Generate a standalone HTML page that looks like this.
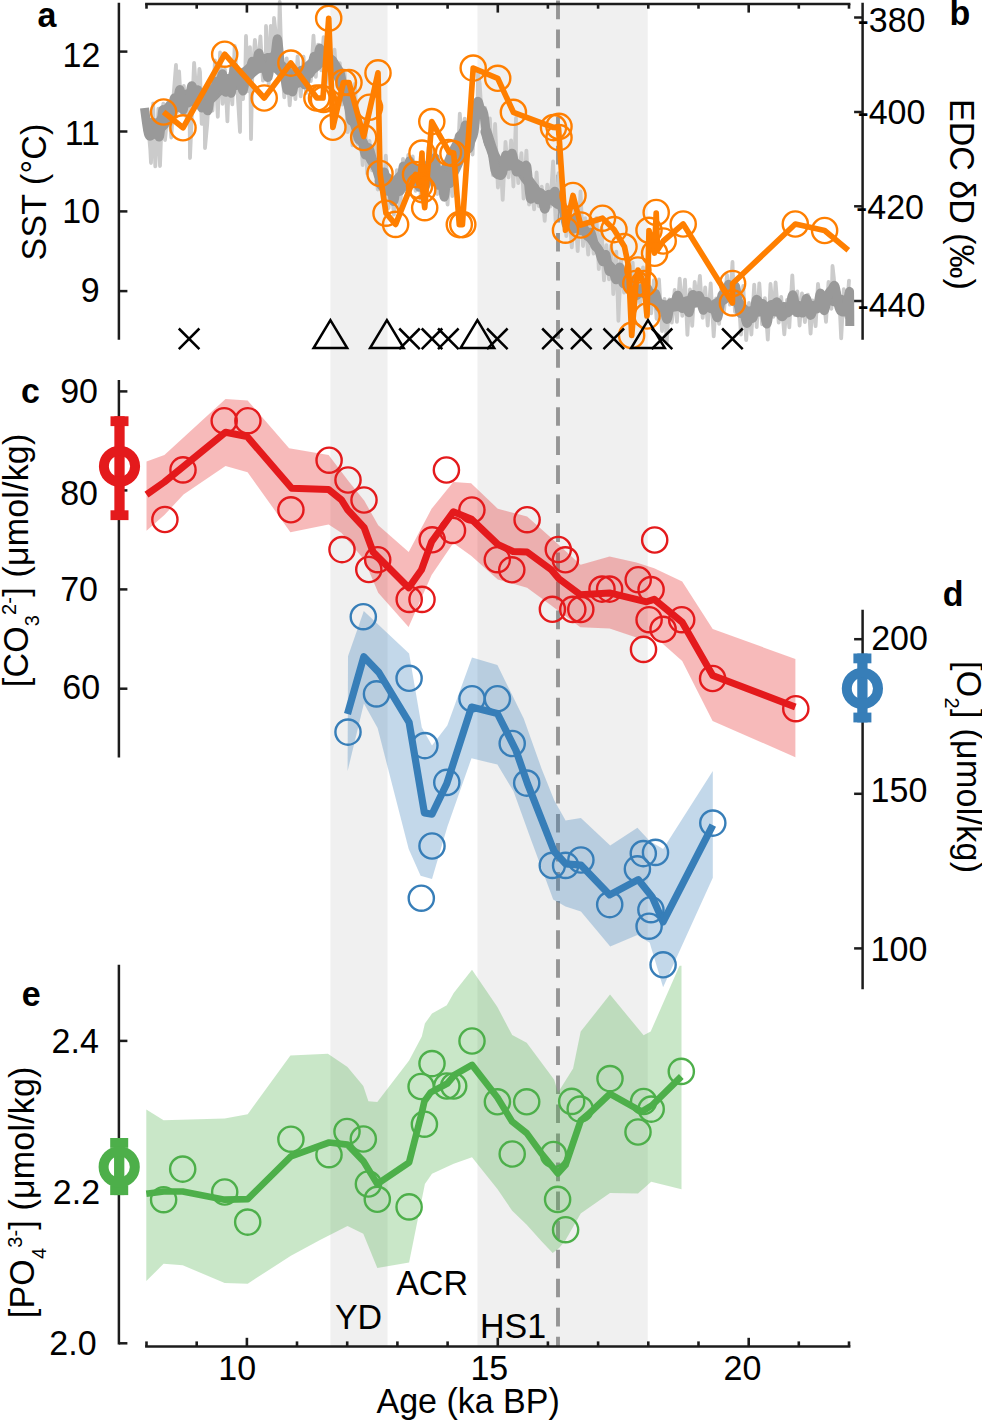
<!DOCTYPE html>
<html><head><meta charset="utf-8"><title>figure</title>
<style>
html,body{margin:0;padding:0;background:#fff;}
body{width:982px;height:1421px;overflow:hidden;}
svg{display:block;font-family:"Liberation Sans", sans-serif;fill:#000;}
</style></head><body>
<svg width="982" height="1421" viewBox="0 0 982 1421">
<rect x="0" y="0" width="982" height="1421" fill="#fff"/>
<rect x="330.4" y="4" width="57.1" height="1342.4" fill="#f0f0f0"/>
<rect x="477.5" y="4" width="170.2" height="1342.4" fill="#f0f0f0"/>
<line x1="558" y1="0.55" x2="558" y2="1346" stroke="#959595" stroke-width="3.9" stroke-dasharray="18.6 10.45"/>
<polyline points="145.0,130.0 147.6,119.0 150.3,149.7 151.0,163.0 153.1,103.5 155.3,166.4 158.4,108.7 160.0,166.0 161.1,135.1 163.3,103.6 165.0,140.0 165.6,133.7 168.6,101.8 171.3,137.5 173.7,93.9 176.0,65.0 176.8,112.8 179.1,71.5 181.3,111.7 183.8,85.9 186.7,118.5 189.3,86.1 190.0,158.0 191.8,115.9 194.1,62.9 197.2,105.1 199.4,68.8 200.0,72.0 201.7,123.8 204.5,95.4 205.0,148.0 207.3,123.1 209.6,81.7 212.5,110.7 215.0,60.3 217.8,116.8 220.1,52.5 222.6,103.8 224.9,69.4 227.4,121.4 228.0,104.0 230.1,73.6 232.3,104.4 234.7,45.8 237.5,91.5 240.0,132.0 240.5,71.6 243.0,99.0 245.4,67.8 246.0,36.0 247.7,91.0 250.0,47.2 251.0,139.0 252.2,78.5 254.9,39.8 257.9,70.6 260.4,36.3 262.9,80.6 265.9,60.8 266.0,26.0 268.7,84.1 270.8,25.8 273.6,68.6 274.0,18.0 276.2,37.6 278.6,58.4 279.7,2.0 281.4,58.5 284.3,97.4 286.7,58.3 289.7,105.4 292.7,67.1 295.4,99.1 297.6,56.3 300.7,96.3 303.5,56.6 306.1,93.1 308.2,62.8 310.8,81.2 313.5,35.7 315.8,76.8 318.1,44.6 321.2,70.3 323.6,37.1 325.9,84.1 328.9,42.8 331.5,75.6 334.5,49.6 337.3,86.4 339.8,63.2 342.2,104.7 344.6,71.4 347.6,132.1 349.8,101.0 352.5,145.4 355.0,83.6 357.4,144.0 359.9,126.0 362.7,165.1 365.0,119.2 367.2,173.7 369.5,141.0 372.0,170.4 374.8,144.7 377.7,189.5 380.5,163.3 383.1,203.0 385.8,155.7 388.6,208.2 391.0,181.4 393.9,214.6 396.9,170.1 399.9,213.2 403.0,158.8 405.4,191.4 408.3,155.0 410.4,181.2 412.7,156.5 415.6,190.9 418.4,165.6 421.2,199.9 423.4,163.1 426.0,189.6 428.6,147.1 431.3,184.6 434.3,149.7 437.2,194.0 439.5,167.2 442.1,197.5 444.7,175.9 447.6,204.6 449.8,160.4 452.3,196.2 454.9,139.6 457.4,167.2 459.8,113.7 462.6,150.8 464.7,118.6 467.0,151.6 469.7,126.5 472.6,154.5 474.9,102.6 477.4,123.6 478.0,72.0 479.7,83.5 482.4,127.8 485.1,107.8 487.4,148.3 489.9,118.5 492.9,175.1 495.1,123.8 497.9,187.5 500.5,160.1 502.7,199.9 505.5,141.9 508.5,177.4 511.1,140.4 513.4,186.5 516.0,118.0 516.0,152.0 518.3,183.1 521.4,153.2 523.6,198.7 526.4,150.7 529.0,204.5 531.1,183.5 534.1,209.4 536.6,172.5 538.8,206.1 541.7,186.7 544.7,220.9 547.3,184.7 550.2,206.7 553.1,161.4 555.6,221.4 558.5,173.2 561.0,217.3 563.5,188.6 566.3,236.1 569.0,209.3 571.8,247.3 574.9,208.9 577.7,251.1 580.5,191.3 583.0,246.0 585.2,218.1 588.2,254.5 590.9,223.0 593.6,253.6 596.5,218.0 598.8,269.2 601.5,228.0 604.0,280.3 606.4,245.2 609.0,279.4 611.2,245.4 613.3,294.1 616.3,251.6 618.4,320.8 621.0,259.9 624.1,292.5 626.9,264.0 630.0,300.8 632.7,262.7 635.0,309.4 637.5,276.8 640.1,303.2 643.0,267.5 646.1,317.1 648.3,279.0 651.2,313.3 653.9,280.1 656.6,318.9 659.0,279.5 662.0,331.0 664.5,299.0 666.7,342.8 669.4,299.4 671.8,322.5 674.7,289.8 676.9,321.9 679.7,278.6 682.3,315.9 685.0,279.7 687.4,334.8 690.0,289.4 692.2,325.8 694.7,282.0 697.1,304.0 699.9,275.8 702.7,317.9 705.2,287.5 707.7,325.7 710.7,283.5 713.7,336.4 716.1,298.4 719.1,323.9 721.6,285.5 724.1,310.7 727.0,274.9 729.9,304.7 732.5,262.0 732.9,275.7 735.0,312.0 738.1,289.2 741.0,334.7 743.2,286.0 746.2,340.2 749.0,303.0 751.4,334.5 754.2,284.6 756.7,327.1 759.3,283.3 762.1,324.4 764.9,298.2 767.8,339.7 770.5,284.0 773.4,316.9 775.6,282.4 778.7,322.6 781.2,296.9 784.3,334.4 787.0,299.8 789.3,327.4 792.3,275.3 794.6,315.0 797.3,291.3 799.6,325.6 802.0,293.4 804.9,322.0 807.9,294.7 810.6,333.6 812.7,300.4 815.6,326.2 818.0,283.9 820.8,310.3 823.2,292.3 826.0,321.8 828.5,282.0 831.4,308.8 832.5,266.0 833.8,277.4 836.1,306.1 839.0,292.7 841.2,338.4 843.8,289.1 846.4,317.4 849.0,280.7" fill="none" stroke="#cbcbcb" stroke-width="3.8" stroke-linejoin="round" stroke-linecap="round"/>
<path d="M152.0,125.2C152.7,125.4 154.7,126.2 156.0,126.2C157.3,126.1 158.7,126.1 160.0,125.1C161.3,124.1 162.7,122.2 164.0,120.1C165.3,118.1 166.7,115.0 168.0,112.8C169.3,110.7 170.7,108.4 172.0,107.1C173.3,105.8 174.7,105.7 176.0,104.8C177.3,103.9 178.7,103.0 180.0,101.9C181.3,100.7 182.7,98.8 184.0,98.0C185.3,97.1 186.7,96.7 188.0,96.7C189.3,96.7 190.7,97.8 192.0,98.2C193.3,98.6 194.7,98.9 196.0,99.1C197.3,99.2 198.7,99.1 200.0,99.0C201.3,99.0 202.7,98.9 204.0,98.7C205.3,98.4 206.7,98.4 208.0,97.7C209.3,96.9 210.7,95.5 212.0,94.2C213.3,93.0 214.7,91.2 216.0,90.1C217.3,88.9 218.7,88.3 220.0,87.3C221.3,86.4 222.7,85.3 224.0,84.3C225.3,83.3 226.7,81.8 228.0,81.5C229.3,81.1 230.7,82.1 232.0,82.2C233.3,82.4 234.7,82.9 236.0,82.4C237.3,82.0 238.7,80.6 240.0,79.5C241.3,78.3 242.7,76.4 244.0,75.3C245.3,74.3 246.7,74.0 248.0,73.0C249.3,72.0 250.7,70.4 252.0,69.4C253.3,68.3 254.7,67.4 256.0,66.7C257.3,66.0 258.7,65.7 260.0,65.2C261.3,64.6 262.7,64.1 264.0,63.3C265.3,62.5 266.7,60.8 268.0,60.5C269.3,60.3 270.7,61.1 272.0,61.9C273.3,62.6 274.7,64.0 276.0,65.0C277.3,66.0 278.7,66.6 280.0,67.7C281.3,68.8 282.7,70.2 284.0,71.6C285.3,73.0 286.7,74.5 288.0,76.0C289.3,77.5 290.7,79.7 292.0,80.5C293.3,81.3 294.7,81.0 296.0,80.7C297.3,80.4 298.7,79.8 300.0,78.8C301.3,77.7 302.7,75.6 304.0,74.2C305.3,72.7 306.7,71.3 308.0,70.0C309.3,68.7 310.7,67.6 312.0,66.5C313.3,65.3 314.7,64.0 316.0,62.9C317.3,61.8 318.7,60.3 320.0,59.6C321.3,58.9 322.7,58.7 324.0,58.9C325.3,59.1 326.7,59.6 328.0,60.6C329.3,61.7 330.7,63.2 332.0,65.0C333.3,66.9 335.3,70.4 336.0,71.5" fill="none" stroke="#999999" stroke-width="15" stroke-linejoin="round" stroke-linecap="round"/>
<path d="M336.0,71.5C336.7,73.0 338.7,77.3 340.0,80.6C341.3,83.9 342.7,87.5 344.0,91.2C345.3,94.9 346.7,98.9 348.0,102.9C349.3,107.0 350.7,111.3 352.0,115.3C353.3,119.4 354.7,123.7 356.0,127.3C357.3,131.0 358.7,134.1 360.0,137.0C361.3,139.9 362.7,142.0 364.0,144.8C365.3,147.6 366.7,151.0 368.0,153.7C369.3,156.4 370.7,158.7 372.0,161.0C373.3,163.2 374.7,164.9 376.0,167.0C377.3,169.1 378.7,171.3 380.0,173.6C381.3,175.9 383.3,179.7 384.0,181.0" fill="none" stroke="#999999" stroke-width="10" stroke-linejoin="round" stroke-linecap="round"/>
<path d="M384.0,181.0C384.7,181.7 386.7,184.6 388.0,185.5C389.3,186.5 390.7,186.7 392.0,186.7C393.3,186.7 394.7,186.2 396.0,185.6C397.3,185.0 398.7,184.3 400.0,183.2C401.3,182.1 402.7,180.2 404.0,179.1C405.3,177.9 406.7,177.1 408.0,176.4C409.3,175.7 410.7,174.9 412.0,174.6C413.3,174.4 414.7,174.8 416.0,174.8C417.3,174.9 418.7,174.9 420.0,174.9C421.3,174.9 422.7,175.1 424.0,175.0C425.3,174.8 426.7,174.3 428.0,174.2C429.3,174.2 430.7,174.4 432.0,174.8C433.3,175.2 434.7,176.3 436.0,176.8C437.3,177.2 438.7,177.7 440.0,177.6C441.3,177.5 442.7,177.1 444.0,176.3C445.3,175.5 446.7,174.6 448.0,172.8C449.3,171.1 450.7,168.5 452.0,165.7C453.3,163.0 454.7,159.1 456.0,156.2C457.3,153.3 458.7,150.8 460.0,148.3C461.3,145.9 462.7,144.1 464.0,141.5C465.3,139.0 467.3,134.4 468.0,132.9" fill="none" stroke="#999999" stroke-width="19" stroke-linejoin="round" stroke-linecap="round"/>
<path d="M486.0,131.7C486.7,133.8 488.7,140.2 490.0,144.1C491.3,148.1 492.7,152.5 494.0,155.4C495.3,158.3 496.7,160.1 498.0,161.6C499.3,163.1 500.7,163.9 502.0,164.5C503.3,165.1 504.7,165.3 506.0,165.3C507.3,165.4 508.7,165.0 510.0,164.8C511.3,164.5 512.7,163.6 514.0,163.8C515.3,164.0 516.7,164.4 518.0,165.8C519.3,167.1 520.7,170.0 522.0,172.1C523.3,174.2 524.7,176.4 526.0,178.2C527.3,180.0 528.7,181.4 530.0,183.1C531.3,184.8 532.7,186.6 534.0,188.6C535.3,190.6 536.7,193.8 538.0,195.1C539.3,196.5 540.7,196.5 542.0,196.7C543.3,196.9 544.7,196.4 546.0,196.5C547.3,196.6 548.7,196.8 550.0,197.4C551.3,198.1 552.7,199.3 554.0,200.4C555.3,201.4 557.3,203.0 558.0,203.6" fill="none" stroke="#999999" stroke-width="11" stroke-linejoin="round" stroke-linecap="round"/>
<path d="M562.0,208.7C562.7,209.7 564.7,212.7 566.0,214.6C567.3,216.6 568.7,218.7 570.0,220.4C571.3,222.1 572.7,223.5 574.0,224.6C575.3,225.8 576.7,226.5 578.0,227.3C579.3,228.2 580.7,228.7 582.0,229.6C583.3,230.5 584.7,231.6 586.0,233.0C587.3,234.4 588.7,236.4 590.0,238.1C591.3,239.8 592.7,241.6 594.0,243.4C595.3,245.1 596.7,246.8 598.0,248.7C599.3,250.7 600.7,253.0 602.0,255.2C603.3,257.3 604.7,259.9 606.0,261.6C607.3,263.4 608.7,264.5 610.0,265.9C611.3,267.3 612.7,268.5 614.0,270.1C615.3,271.6 616.7,273.7 618.0,275.1C619.3,276.5 620.7,277.6 622.0,278.5C623.3,279.5 624.7,280.1 626.0,281.1C627.3,282.0 628.7,283.2 630.0,284.2C631.3,285.2 632.7,286.4 634.0,287.3C635.3,288.1 636.7,288.5 638.0,289.1C639.3,289.8 640.7,290.4 642.0,291.1C643.3,291.8 644.7,292.6 646.0,293.3C647.3,294.0 649.3,295.0 650.0,295.3" fill="none" stroke="#999999" stroke-width="9" stroke-linejoin="round" stroke-linecap="round"/>
<path d="M652.0,296.9C652.7,297.5 654.7,299.6 656.0,300.9C657.3,302.1 658.7,303.6 660.0,304.4C661.3,305.2 662.7,305.4 664.0,305.7C665.3,306.0 666.7,306.0 668.0,306.1C669.3,306.1 670.7,306.2 672.0,306.2C673.3,306.1 674.7,306.0 676.0,305.8C677.3,305.5 678.7,304.9 680.0,304.5C681.3,304.0 682.7,303.3 684.0,302.8C685.3,302.3 686.7,301.7 688.0,301.6C689.3,301.4 690.7,301.9 692.0,302.0C693.3,302.1 694.7,302.3 696.0,302.1C697.3,302.0 698.7,301.1 700.0,301.2C701.3,301.2 702.7,301.6 704.0,302.4C705.3,303.1 706.7,305.0 708.0,305.6C709.3,306.3 710.7,306.6 712.0,306.4C713.3,306.2 714.7,305.2 716.0,304.3C717.3,303.5 718.7,302.5 720.0,301.5C721.3,300.5 722.7,299.6 724.0,298.6C725.3,297.6 726.7,295.9 728.0,295.5C729.3,295.1 730.7,295.5 732.0,296.2C733.3,296.9 734.7,298.3 736.0,299.8C737.3,301.3 738.7,303.5 740.0,305.3C741.3,307.0 742.7,308.9 744.0,310.1C745.3,311.2 746.7,311.9 748.0,312.2C749.3,312.4 750.7,311.7 752.0,311.6C753.3,311.4 754.7,311.5 756.0,311.4C757.3,311.3 758.7,311.4 760.0,310.8C761.3,310.3 762.7,308.5 764.0,307.9C765.3,307.4 766.7,307.0 768.0,307.3C769.3,307.6 770.7,308.9 772.0,309.6C773.3,310.2 774.7,311.1 776.0,311.0C777.3,311.0 778.7,309.8 780.0,309.2C781.3,308.7 782.7,307.6 784.0,307.5C785.3,307.4 786.7,308.4 788.0,308.7C789.3,308.9 790.7,309.5 792.0,309.3C793.3,309.1 794.7,307.9 796.0,307.4C797.3,307.0 798.7,306.4 800.0,306.6C801.3,306.8 802.7,308.2 804.0,308.6C805.3,308.9 806.7,309.0 808.0,308.6C809.3,308.3 810.7,306.9 812.0,306.5C813.3,306.1 814.7,306.6 816.0,306.3C817.3,305.9 818.7,305.5 820.0,304.4C821.3,303.3 822.7,300.9 824.0,299.8C825.3,298.7 826.7,297.8 828.0,297.8C829.3,297.9 830.7,299.6 832.0,300.1C833.3,300.6 834.7,300.9 836.0,300.9C837.3,300.8 838.7,299.8 840.0,299.9C841.3,300.0 842.7,301.1 844.0,301.6C845.3,302.0 847.3,302.4 848.0,302.5" fill="none" stroke="#999999" stroke-width="11" stroke-linejoin="round" stroke-linecap="round"/>
<path d="M144.5,108.0C145.1,112.3 147.1,129.2 148.4,133.7C149.7,138.2 151.1,135.4 152.5,134.9C153.9,134.4 155.4,130.3 156.6,130.5C157.8,130.7 158.6,139.6 159.6,136.2C160.6,132.9 161.8,113.2 162.7,110.2C163.7,107.2 164.5,118.6 165.4,118.3C166.3,118.0 167.2,108.7 168.2,108.5C169.2,108.3 170.3,118.6 171.3,117.0C172.2,115.4 173.0,101.9 174.0,98.9C175.1,95.9 176.4,100.6 177.4,99.1C178.4,97.6 179.2,88.0 180.1,89.8C181.0,91.6 181.9,108.2 182.8,109.9C183.7,111.5 184.5,100.9 185.5,99.6C186.5,98.4 187.8,104.7 188.8,102.4C189.8,100.1 190.6,87.3 191.6,85.9C192.6,84.5 193.8,93.3 194.9,94.0C196.0,94.8 197.2,87.9 198.2,90.2C199.3,92.4 200.3,105.3 201.4,107.6C202.5,109.8 203.6,103.3 204.7,103.8C205.9,104.3 207.1,112.5 208.1,110.4C209.2,108.3 210.0,93.6 211.0,91.1C211.9,88.6 212.8,97.2 213.7,95.6C214.6,94.0 215.4,83.5 216.3,81.6C217.3,79.7 218.4,85.7 219.4,84.4C220.5,83.2 221.6,72.8 222.6,74.0C223.6,75.3 224.4,90.0 225.4,91.9C226.4,93.9 227.4,85.5 228.4,85.6C229.4,85.8 230.4,95.7 231.4,92.7C232.3,89.7 233.2,70.0 234.0,67.7C234.9,65.4 235.7,77.1 236.6,79.0C237.6,80.9 238.8,77.2 239.9,79.2C241.0,81.2 242.1,91.7 243.2,90.9C244.2,90.1 245.3,77.0 246.2,74.6C247.2,72.1 247.9,78.4 248.9,76.2C249.9,74.0 251.1,62.6 252.2,61.4C253.3,60.3 254.3,70.7 255.4,69.3C256.5,67.9 257.7,53.4 258.8,53.1C259.8,52.8 260.6,65.4 261.7,67.7C262.7,69.9 263.8,65.2 264.9,66.9C266.0,68.5 267.0,78.9 268.1,77.4C269.2,75.9 270.3,61.3 271.4,57.9C272.5,54.5 273.7,60.0 274.7,56.9C275.8,53.7 276.6,36.9 277.6,39.1C278.6,41.3 279.8,63.9 280.9,70.0C282.0,76.2 283.2,72.5 284.3,75.9C285.3,79.2 286.2,88.6 287.1,90.0C288.1,91.4 289.0,83.8 289.9,84.1C290.8,84.4 291.6,93.4 292.6,91.7C293.6,90.0 295.0,75.6 296.0,73.9C297.0,72.2 297.7,82.0 298.6,81.4C299.6,80.8 300.7,69.8 301.6,70.3C302.6,70.9 303.4,84.2 304.4,84.7C305.4,85.1 306.7,75.1 307.7,73.1C308.7,71.1 309.6,75.5 310.6,72.7C311.7,69.9 312.9,57.7 314.0,56.3C315.0,54.9 316.0,65.7 317.0,64.3C317.9,63.0 318.7,48.5 319.7,48.2C320.7,47.8 321.9,61.1 323.0,62.2C324.1,63.2 325.2,54.0 326.3,54.5C327.3,55.0 328.2,64.2 329.2,65.1C330.2,66.1 331.3,59.3 332.5,60.3C333.6,61.4 334.8,69.4 336.0,71.4C337.3,73.3 338.8,69.0 340.0,72.1C341.3,75.2 342.4,85.7 343.6,90.1C344.8,94.4 346.3,93.3 347.5,98.3C348.7,103.3 349.7,116.6 350.8,120.1C351.9,123.5 352.8,115.9 354.0,119.0C355.2,122.1 356.9,135.1 358.2,138.7C359.5,142.3 360.7,138.0 361.9,140.7C363.1,143.4 364.2,153.7 365.3,154.9C366.5,156.0 367.4,146.8 368.7,147.7C369.9,148.6 371.4,156.4 372.7,160.1C374.0,163.8 375.3,166.5 376.6,169.9C377.9,173.3 379.2,180.1 380.5,180.5C381.8,180.9 383.2,170.6 384.4,172.2C385.6,173.9 386.5,188.5 387.6,190.6C388.6,192.7 389.5,183.0 390.5,184.8C391.6,186.6 392.6,201.7 393.7,201.4C394.8,201.1 396.0,184.9 397.1,183.2C398.1,181.4 399.1,193.8 400.1,191.0C401.1,188.2 402.1,168.0 403.2,166.2C404.2,164.3 405.2,180.6 406.3,179.8C407.4,178.9 408.5,161.2 409.5,160.9C410.6,160.5 411.7,176.6 412.8,177.8C413.8,179.0 414.8,166.4 415.9,168.0C417.0,169.5 418.1,187.2 419.2,187.2C420.3,187.2 421.4,168.3 422.4,168.1C423.5,167.9 424.5,186.9 425.6,186.2C426.7,185.5 427.9,165.5 429.0,163.8C430.0,162.1 430.9,176.9 432.0,175.9C433.0,174.9 434.2,156.2 435.2,157.7C436.3,159.2 437.2,182.1 438.2,184.9C439.3,187.7 440.4,172.4 441.4,174.5C442.4,176.5 443.2,196.7 444.1,197.1C445.1,197.5 446.2,179.1 447.2,176.7C448.2,174.3 449.1,186.8 450.1,182.8C451.2,178.9 452.3,157.4 453.4,152.9C454.4,148.4 455.6,158.6 456.5,155.8C457.5,153.0 458.3,138.5 459.3,136.2C460.2,134.0 461.3,144.2 462.4,142.3C463.4,140.5 464.6,124.1 465.5,125.1C466.5,126.1 467.3,145.6 468.2,148.3C469.1,151.0 470.0,144.0 470.9,141.2C471.9,138.4 473.0,138.0 474.1,131.5C475.2,125.0 476.3,106.2 477.3,102.3C478.4,98.4 479.3,106.2 480.4,108.1C481.5,110.0 482.6,108.3 483.8,113.7C485.0,119.2 486.2,134.8 487.5,140.8C488.8,146.8 490.4,144.7 491.6,149.6C492.9,154.6 493.9,166.4 495.1,170.6C496.3,174.8 497.3,174.6 498.6,175.0C499.8,175.4 501.4,176.2 502.6,172.9C503.8,169.6 504.6,156.7 505.6,155.1C506.7,153.6 507.7,163.7 508.7,163.4C509.8,163.1 510.9,152.0 512.2,153.3C513.4,154.7 515.0,169.7 516.3,171.7C517.6,173.7 518.6,165.2 519.8,165.2C521.0,165.3 522.4,171.6 523.6,171.8C524.7,172.0 525.6,161.9 526.8,166.3C527.9,170.8 529.1,194.9 530.4,198.5C531.7,202.1 533.3,187.7 534.6,187.9C535.9,188.1 536.9,198.9 538.0,199.8C539.1,200.6 539.9,191.3 541.0,192.8C542.1,194.4 543.5,208.7 544.7,209.1C545.8,209.6 546.7,197.7 547.9,195.3C549.1,192.9 550.7,195.4 551.9,194.8C553.2,194.2 554.3,190.2 555.4,191.7C556.6,193.2 557.7,201.5 558.8,203.8C559.9,206.0 561.0,201.7 562.3,205.2C563.5,208.8 565.1,222.3 566.3,224.8C567.6,227.4 568.5,219.8 569.7,220.5C570.8,221.2 572.1,229.4 573.3,229.2C574.4,228.9 575.5,218.8 576.6,219.0C577.8,219.3 579.0,229.2 580.2,230.5C581.4,231.9 582.6,226.1 583.8,227.0C585.0,228.0 586.4,235.6 587.5,236.5C588.7,237.4 589.7,230.9 590.9,232.4C592.1,234.0 593.6,243.0 594.9,245.8C596.2,248.6 597.2,246.6 598.5,249.2C599.8,251.9 601.4,260.7 602.7,261.6C603.9,262.5 604.9,253.0 605.9,254.6C607.0,256.2 608.0,268.8 609.1,271.1C610.2,273.5 611.3,267.3 612.5,268.8C613.6,270.2 614.8,280.1 616.1,279.8C617.3,279.5 618.6,266.4 619.8,267.0C620.9,267.5 621.8,280.7 622.9,283.0C624.0,285.4 625.2,280.3 626.3,281.1C627.4,282.0 628.5,288.1 629.7,288.2C630.9,288.4 632.1,280.7 633.3,281.9C634.5,283.0 635.6,294.0 636.8,295.1C637.9,296.2 639.3,288.8 640.5,288.6C641.6,288.4 642.5,293.9 643.8,293.9C645.0,293.9 646.6,287.8 647.9,288.7C649.2,289.6 650.3,298.4 651.5,299.2C652.8,300.0 654.2,292.1 655.5,293.4C656.7,294.7 657.9,305.2 659.1,307.1C660.4,309.0 661.6,303.0 662.9,305.1C664.2,307.1 665.7,319.7 667.0,319.4C668.3,319.1 669.4,305.3 670.5,303.1C671.6,301.0 672.5,307.9 673.7,306.5C674.9,305.2 676.4,294.9 677.7,295.2C679.0,295.5 680.5,306.9 681.7,308.3C683.0,309.7 684.0,303.0 685.2,303.7C686.5,304.4 688.0,313.9 689.2,312.5C690.3,311.1 691.2,297.6 692.3,295.2C693.5,292.8 694.8,297.8 696.0,298.0C697.2,298.1 698.2,293.9 699.4,296.0C700.6,298.0 702.0,309.3 703.1,310.2C704.2,311.2 705.0,301.8 706.2,301.5C707.4,301.2 708.9,307.2 710.2,308.3C711.5,309.5 712.7,306.7 714.0,308.2C715.2,309.7 716.5,319.6 717.8,317.4C719.2,315.2 720.8,297.9 722.0,294.8C723.2,291.6 724.0,300.3 725.1,298.6C726.1,296.8 727.1,285.2 728.3,284.4C729.6,283.5 731.3,293.3 732.5,293.7C733.7,294.1 734.4,283.5 735.6,286.5C736.9,289.6 738.4,307.7 739.7,311.9C741.1,316.1 742.3,309.7 743.5,311.6C744.6,313.5 745.6,322.2 746.7,323.3C747.7,324.4 748.6,318.9 749.7,317.9C750.8,316.9 752.1,320.4 753.2,317.3C754.3,314.3 755.1,301.7 756.2,299.7C757.4,297.6 759.0,304.2 760.1,305.0C761.3,305.9 762.2,301.6 763.3,304.8C764.4,308.0 765.5,323.8 766.7,324.1C767.8,324.3 769.1,309.6 770.3,306.3C771.4,303.1 772.5,305.3 773.7,304.7C774.9,304.0 776.3,300.6 777.6,302.5C778.8,304.4 780.0,314.5 781.3,316.3C782.6,318.1 784.1,314.2 785.4,313.3C786.7,312.5 787.9,314.3 789.1,311.2C790.4,308.1 791.5,294.6 792.8,294.7C794.1,294.8 795.5,309.3 796.7,311.9C797.9,314.5 798.8,310.3 799.9,310.4C801.0,310.5 802.2,314.5 803.3,312.5C804.4,310.5 805.4,297.9 806.5,298.4C807.7,298.8 809.1,313.5 810.3,315.1C811.6,316.6 813.0,308.8 814.1,307.7C815.3,306.6 816.2,310.7 817.3,308.2C818.3,305.8 819.4,292.8 820.6,293.2C821.7,293.6 822.9,310.4 824.1,310.7C825.4,311.0 826.8,298.5 828.1,294.9C829.4,291.2 830.8,290.3 832.0,289.0C833.1,287.6 834.0,283.5 835.1,286.5C836.3,289.6 837.8,303.2 839.0,307.4C840.1,311.6 840.9,311.5 842.1,311.9C843.2,312.2 844.7,312.6 845.9,309.4C847.1,306.3 848.4,295.3 849.1,293.0C849.7,290.8 849.5,290.5 849.6,296.0C849.7,301.5 849.8,321.0 849.8,326.0" fill="none" stroke="#999999" stroke-width="9" stroke-linejoin="round" stroke-linecap="butt"/>
<polyline points="163.6,112.0 183.0,127.8 224.7,54.2 264.2,98.0 290.9,63.1 316.9,98.0 323.0,98.0 328.7,18.3 332.9,127.3 343.4,82.5 349.0,82.5 363.7,136.5 378.0,72.9 380.0,173.5 386.0,213.2 395.6,224.4 415.5,174.5 419.6,185.7 422.0,153.1 422.7,189.8 424.7,207.7 431.8,121.6 449.1,152.1 453.7,153.1 459.3,224.6 462.4,224.6 473.2,68.1 497.7,78.3 513.4,112.3 553.5,127.5 558.5,128.0 565.5,230.2 573.0,195.5 580.7,225.0 602.5,218.2 614.0,229.6 624.5,246.8 628.5,266.0 631.7,335.4 636.0,283.5 638.0,270.0 644.0,283.5 647.0,316.0 649.0,230.5 654.5,253.0 656.2,213.0 657.5,250.0 663.3,241.0 683.2,224.0 732.4,302.9 732.6,283.5 795.3,224.0 824.6,230.5 848.3,250.3" fill="none" stroke="#ff7f00" stroke-width="5.7" stroke-linejoin="round" stroke-linecap="butt"/>
<circle cx="163.6" cy="112.0" r="12.6" fill="none" stroke="#ff7f00" stroke-width="2.4"/>
<circle cx="183.0" cy="127.8" r="12.6" fill="none" stroke="#ff7f00" stroke-width="2.4"/>
<circle cx="224.7" cy="54.2" r="12.6" fill="none" stroke="#ff7f00" stroke-width="2.4"/>
<circle cx="264.2" cy="98.0" r="12.6" fill="none" stroke="#ff7f00" stroke-width="2.4"/>
<circle cx="290.9" cy="63.1" r="12.6" fill="none" stroke="#ff7f00" stroke-width="2.4"/>
<circle cx="316.9" cy="98.0" r="12.6" fill="none" stroke="#ff7f00" stroke-width="2.4"/>
<circle cx="321.5" cy="98.0" r="12.6" fill="none" stroke="#ff7f00" stroke-width="2.4"/>
<circle cx="323.5" cy="99.4" r="12.6" fill="none" stroke="#ff7f00" stroke-width="2.4"/>
<circle cx="328.7" cy="18.3" r="12.6" fill="none" stroke="#ff7f00" stroke-width="2.4"/>
<circle cx="332.9" cy="127.3" r="12.6" fill="none" stroke="#ff7f00" stroke-width="2.4"/>
<circle cx="343.4" cy="82.5" r="12.6" fill="none" stroke="#ff7f00" stroke-width="2.4"/>
<circle cx="349.0" cy="82.5" r="12.6" fill="none" stroke="#ff7f00" stroke-width="2.4"/>
<circle cx="363.7" cy="137.5" r="12.6" fill="none" stroke="#ff7f00" stroke-width="2.4"/>
<circle cx="369.5" cy="107.2" r="12.6" fill="none" stroke="#ff7f00" stroke-width="2.4"/>
<circle cx="378.0" cy="72.9" r="12.6" fill="none" stroke="#ff7f00" stroke-width="2.4"/>
<circle cx="380.0" cy="173.5" r="12.6" fill="none" stroke="#ff7f00" stroke-width="2.4"/>
<circle cx="386.0" cy="213.2" r="12.6" fill="none" stroke="#ff7f00" stroke-width="2.4"/>
<circle cx="395.6" cy="224.4" r="12.6" fill="none" stroke="#ff7f00" stroke-width="2.4"/>
<circle cx="415.5" cy="174.5" r="12.6" fill="none" stroke="#ff7f00" stroke-width="2.4"/>
<circle cx="419.6" cy="185.7" r="12.6" fill="none" stroke="#ff7f00" stroke-width="2.4"/>
<circle cx="422.0" cy="153.1" r="12.6" fill="none" stroke="#ff7f00" stroke-width="2.4"/>
<circle cx="422.7" cy="189.8" r="12.6" fill="none" stroke="#ff7f00" stroke-width="2.4"/>
<circle cx="424.7" cy="207.7" r="12.6" fill="none" stroke="#ff7f00" stroke-width="2.4"/>
<circle cx="431.8" cy="121.6" r="12.6" fill="none" stroke="#ff7f00" stroke-width="2.4"/>
<circle cx="448.5" cy="152.5" r="12.6" fill="none" stroke="#ff7f00" stroke-width="2.4"/>
<circle cx="453.0" cy="153.5" r="12.6" fill="none" stroke="#ff7f00" stroke-width="2.4"/>
<circle cx="459.3" cy="224.6" r="12.6" fill="none" stroke="#ff7f00" stroke-width="2.4"/>
<circle cx="462.8" cy="224.6" r="12.6" fill="none" stroke="#ff7f00" stroke-width="2.4"/>
<circle cx="473.2" cy="68.1" r="12.6" fill="none" stroke="#ff7f00" stroke-width="2.4"/>
<circle cx="497.7" cy="78.3" r="12.6" fill="none" stroke="#ff7f00" stroke-width="2.4"/>
<circle cx="513.4" cy="112.3" r="12.6" fill="none" stroke="#ff7f00" stroke-width="2.4"/>
<circle cx="553.5" cy="127.6" r="12.6" fill="none" stroke="#ff7f00" stroke-width="2.4"/>
<circle cx="559.0" cy="126.4" r="12.6" fill="none" stroke="#ff7f00" stroke-width="2.4"/>
<circle cx="559.0" cy="137.6" r="12.6" fill="none" stroke="#ff7f00" stroke-width="2.4"/>
<circle cx="565.5" cy="230.2" r="12.6" fill="none" stroke="#ff7f00" stroke-width="2.4"/>
<circle cx="573.0" cy="195.5" r="12.6" fill="none" stroke="#ff7f00" stroke-width="2.4"/>
<circle cx="580.7" cy="225.0" r="12.6" fill="none" stroke="#ff7f00" stroke-width="2.4"/>
<circle cx="602.5" cy="218.2" r="12.6" fill="none" stroke="#ff7f00" stroke-width="2.4"/>
<circle cx="614.0" cy="229.6" r="12.6" fill="none" stroke="#ff7f00" stroke-width="2.4"/>
<circle cx="624.0" cy="246.6" r="12.6" fill="none" stroke="#ff7f00" stroke-width="2.4"/>
<circle cx="635.8" cy="283.5" r="12.6" fill="none" stroke="#ff7f00" stroke-width="2.4"/>
<circle cx="644.0" cy="283.5" r="12.6" fill="none" stroke="#ff7f00" stroke-width="2.4"/>
<circle cx="637.9" cy="270.0" r="12.6" fill="none" stroke="#ff7f00" stroke-width="2.4"/>
<circle cx="647.0" cy="316.0" r="12.6" fill="none" stroke="#ff7f00" stroke-width="2.4"/>
<circle cx="631.6" cy="335.4" r="12.6" fill="none" stroke="#ff7f00" stroke-width="2.4"/>
<circle cx="649.0" cy="230.3" r="12.6" fill="none" stroke="#ff7f00" stroke-width="2.4"/>
<circle cx="656.2" cy="212.5" r="12.6" fill="none" stroke="#ff7f00" stroke-width="2.4"/>
<circle cx="663.2" cy="241.0" r="12.6" fill="none" stroke="#ff7f00" stroke-width="2.4"/>
<circle cx="654.6" cy="253.3" r="12.6" fill="none" stroke="#ff7f00" stroke-width="2.4"/>
<circle cx="683.2" cy="224.0" r="12.6" fill="none" stroke="#ff7f00" stroke-width="2.4"/>
<circle cx="732.6" cy="283.5" r="12.6" fill="none" stroke="#ff7f00" stroke-width="2.4"/>
<circle cx="732.4" cy="302.9" r="12.6" fill="none" stroke="#ff7f00" stroke-width="2.4"/>
<circle cx="795.3" cy="224.0" r="12.6" fill="none" stroke="#ff7f00" stroke-width="2.4"/>
<circle cx="824.6" cy="230.5" r="12.6" fill="none" stroke="#ff7f00" stroke-width="2.4"/>
<path d="M178.8,328.5 L199.4,349.1 M178.8,349.1 L199.4,328.5" stroke="#000" stroke-width="2.5" fill="none"/>
<path d="M399.2,328.5 L419.8,349.1 M399.2,349.1 L419.8,328.5" stroke="#000" stroke-width="2.5" fill="none"/>
<path d="M421.7,328.5 L442.3,349.1 M421.7,349.1 L442.3,328.5" stroke="#000" stroke-width="2.5" fill="none"/>
<path d="M438.0,328.5 L458.6,349.1 M438.0,349.1 L458.6,328.5" stroke="#000" stroke-width="2.5" fill="none"/>
<path d="M487.0,328.5 L507.6,349.1 M487.0,349.1 L507.6,328.5" stroke="#000" stroke-width="2.5" fill="none"/>
<path d="M542.2,328.5 L562.8,349.1 M542.2,349.1 L562.8,328.5" stroke="#000" stroke-width="2.5" fill="none"/>
<path d="M571.0,328.5 L591.6,349.1 M571.0,349.1 L591.6,328.5" stroke="#000" stroke-width="2.5" fill="none"/>
<path d="M603.5,328.5 L624.1,349.1 M603.5,349.1 L624.1,328.5" stroke="#000" stroke-width="2.5" fill="none"/>
<path d="M651.7,328.5 L672.3,349.1 M651.7,349.1 L672.3,328.5" stroke="#000" stroke-width="2.5" fill="none"/>
<path d="M722.1,328.5 L742.7,349.1 M722.1,349.1 L742.7,328.5" stroke="#000" stroke-width="2.5" fill="none"/>
<path d="M330.4,320.2 L347.2,348.0 L313.6,348.0 Z" stroke="#000" stroke-width="2.5" fill="none" stroke-linejoin="miter"/>
<path d="M386.9,320.2 L403.7,348.0 L370.1,348.0 Z" stroke="#000" stroke-width="2.5" fill="none" stroke-linejoin="miter"/>
<path d="M477.4,320.2 L494.2,348.0 L460.6,348.0 Z" stroke="#000" stroke-width="2.5" fill="none" stroke-linejoin="miter"/>
<path d="M648.0,320.2 L664.8,348.0 L631.2,348.0 Z" stroke="#000" stroke-width="2.5" fill="none" stroke-linejoin="miter"/>
<polygon points="146.5,461.5 164.4,455.1 225.5,399.1 247.6,400.4 289.1,448.2 328.6,455.1 349.0,481.8 364.2,500.5 378.2,525.3 408.7,552.0 431.6,508.7 453.3,482.0 471.1,483.3 497.8,508.7 527.1,516.4 551.3,538.0 580.6,564.7 609.6,556.5 636.4,562.4 654.2,568.2 682.2,581.5 712.7,629.0 795.4,659.0 795.4,757.3 712.6,720.9 682.2,661.0 654.0,636.0 636.4,637.5 609.6,628.6 580.4,627.3 551.3,605.5 527.1,587.7 513.1,583.8 497.8,579.5 471.1,555.8 453.3,543.1 431.6,575.0 408.6,627.0 378.2,592.7 364.2,559.7 341.3,532.7 328.6,524.6 290.4,532.2 247.6,472.2 225.5,466.0 183.5,494.6 164.4,515.0 146.5,530.7" fill="#e41a1c" fill-opacity="0.3"/>
<polyline points="146.5,494.6 164.4,482.0 225.5,432.2 247.1,436.5 291.7,488.2 328.6,489.5 341.3,499.7 347.7,509.8 364.2,527.7 373.1,552.0 408.7,587.7 421.5,569.8 431.6,541.8 453.3,511.8 471.1,518.9 497.8,544.4 513.1,551.5 527.1,552.0 551.3,569.8 558.9,578.7 580.4,594.7 609.6,592.9 646.6,601.8 654.2,599.3 682.2,622.2 712.7,675.4 795.3,706.9" fill="none" stroke="#e41a1c" stroke-width="7" stroke-linejoin="round"/>
<circle cx="164.9" cy="519.5" r="12.6" fill="none" stroke="#e41a1c" stroke-width="2.4"/>
<circle cx="183.0" cy="469.9" r="12.6" fill="none" stroke="#e41a1c" stroke-width="2.4"/>
<circle cx="224.2" cy="420.7" r="12.6" fill="none" stroke="#e41a1c" stroke-width="2.4"/>
<circle cx="247.9" cy="420.7" r="12.6" fill="none" stroke="#e41a1c" stroke-width="2.4"/>
<circle cx="290.9" cy="509.8" r="12.6" fill="none" stroke="#e41a1c" stroke-width="2.4"/>
<circle cx="329.1" cy="460.2" r="12.6" fill="none" stroke="#e41a1c" stroke-width="2.4"/>
<circle cx="348.0" cy="480.0" r="12.6" fill="none" stroke="#e41a1c" stroke-width="2.4"/>
<circle cx="364.0" cy="500.0" r="12.6" fill="none" stroke="#e41a1c" stroke-width="2.4"/>
<circle cx="342.0" cy="549.6" r="12.6" fill="none" stroke="#e41a1c" stroke-width="2.4"/>
<circle cx="368.8" cy="569.5" r="12.6" fill="none" stroke="#e41a1c" stroke-width="2.4"/>
<circle cx="377.7" cy="559.7" r="12.6" fill="none" stroke="#e41a1c" stroke-width="2.4"/>
<circle cx="409.2" cy="599.4" r="12.6" fill="none" stroke="#e41a1c" stroke-width="2.4"/>
<circle cx="422.0" cy="599.4" r="12.6" fill="none" stroke="#e41a1c" stroke-width="2.4"/>
<circle cx="432.2" cy="539.8" r="12.6" fill="none" stroke="#e41a1c" stroke-width="2.4"/>
<circle cx="446.4" cy="470.0" r="12.6" fill="none" stroke="#e41a1c" stroke-width="2.4"/>
<circle cx="452.5" cy="530.4" r="12.6" fill="none" stroke="#e41a1c" stroke-width="2.4"/>
<circle cx="471.9" cy="510.0" r="12.6" fill="none" stroke="#e41a1c" stroke-width="2.4"/>
<circle cx="497.3" cy="559.7" r="12.6" fill="none" stroke="#e41a1c" stroke-width="2.4"/>
<circle cx="511.8" cy="569.8" r="12.6" fill="none" stroke="#e41a1c" stroke-width="2.4"/>
<circle cx="527.1" cy="519.7" r="12.6" fill="none" stroke="#e41a1c" stroke-width="2.4"/>
<circle cx="558.3" cy="549.5" r="12.6" fill="none" stroke="#e41a1c" stroke-width="2.4"/>
<circle cx="565.4" cy="559.8" r="12.6" fill="none" stroke="#e41a1c" stroke-width="2.4"/>
<circle cx="552.4" cy="609.3" r="12.6" fill="none" stroke="#e41a1c" stroke-width="2.4"/>
<circle cx="572.8" cy="609.4" r="12.6" fill="none" stroke="#e41a1c" stroke-width="2.4"/>
<circle cx="580.8" cy="609.4" r="12.6" fill="none" stroke="#e41a1c" stroke-width="2.4"/>
<circle cx="602.0" cy="589.1" r="12.6" fill="none" stroke="#e41a1c" stroke-width="2.4"/>
<circle cx="609.6" cy="589.1" r="12.6" fill="none" stroke="#e41a1c" stroke-width="2.4"/>
<circle cx="638.2" cy="579.7" r="12.6" fill="none" stroke="#e41a1c" stroke-width="2.4"/>
<circle cx="651.1" cy="589.6" r="12.6" fill="none" stroke="#e41a1c" stroke-width="2.4"/>
<circle cx="654.7" cy="540.0" r="12.6" fill="none" stroke="#e41a1c" stroke-width="2.4"/>
<circle cx="649.1" cy="619.7" r="12.6" fill="none" stroke="#e41a1c" stroke-width="2.4"/>
<circle cx="663.1" cy="629.3" r="12.6" fill="none" stroke="#e41a1c" stroke-width="2.4"/>
<circle cx="681.7" cy="619.7" r="12.6" fill="none" stroke="#e41a1c" stroke-width="2.4"/>
<circle cx="643.5" cy="649.4" r="12.6" fill="none" stroke="#e41a1c" stroke-width="2.4"/>
<circle cx="712.6" cy="678.5" r="12.6" fill="none" stroke="#e41a1c" stroke-width="2.4"/>
<circle cx="795.8" cy="708.7" r="12.6" fill="none" stroke="#e41a1c" stroke-width="2.4"/>
<polygon points="348.0,656.2 363.8,610.9 409.1,653.6 421.8,727.6 432.0,745.5 447.3,725.5 472.0,657.5 497.4,665.1 523.7,718.5 541.5,768.4 554.2,800.2 565.6,820.5 580.9,818.0 610.2,845.5 637.4,827.7 649.7,840.9 663.1,849.1 712.8,771.0 712.8,877.8 663.1,987.3 649.7,942.7 637.4,935.1 610.2,946.6 580.9,911.4 565.5,906.4 553.2,899.5 531.3,840.5 513.5,791.3 497.4,764.6 471.5,758.2 447.3,826.9 432.0,879.1 420.6,875.8 408.7,849.0 377.6,728.0 363.9,703.5 347.6,771.0" fill="#377eb8" fill-opacity="0.3"/>
<polyline points="347.5,714.0 363.8,656.7 378.9,672.5 409.1,722.4 424.4,812.9 432.0,814.2 446.8,783.6 471.5,707.1 497.4,713.5 516.0,750.5 527.5,783.6 554.2,851.5 565.6,863.8 580.9,865.1 609.7,894.9 638.2,879.6 652.2,896.9 663.1,921.9 712.8,825.1" fill="none" stroke="#377eb8" stroke-width="7.2" stroke-linejoin="round"/>
<circle cx="363.3" cy="616.7" r="12.6" fill="none" stroke="#377eb8" stroke-width="2.4"/>
<circle cx="348.0" cy="732.1" r="12.6" fill="none" stroke="#377eb8" stroke-width="2.4"/>
<circle cx="376.5" cy="693.9" r="12.6" fill="none" stroke="#377eb8" stroke-width="2.4"/>
<circle cx="409.1" cy="678.3" r="12.6" fill="none" stroke="#377eb8" stroke-width="2.4"/>
<circle cx="424.9" cy="745.6" r="12.6" fill="none" stroke="#377eb8" stroke-width="2.4"/>
<circle cx="472.0" cy="698.7" r="12.6" fill="none" stroke="#377eb8" stroke-width="2.4"/>
<circle cx="497.4" cy="698.7" r="12.6" fill="none" stroke="#377eb8" stroke-width="2.4"/>
<circle cx="512.2" cy="743.5" r="12.6" fill="none" stroke="#377eb8" stroke-width="2.4"/>
<circle cx="446.8" cy="782.4" r="12.6" fill="none" stroke="#377eb8" stroke-width="2.4"/>
<circle cx="432.0" cy="846.0" r="12.6" fill="none" stroke="#377eb8" stroke-width="2.4"/>
<circle cx="421.3" cy="898.2" r="12.6" fill="none" stroke="#377eb8" stroke-width="2.4"/>
<circle cx="526.7" cy="783.1" r="12.6" fill="none" stroke="#377eb8" stroke-width="2.4"/>
<circle cx="552.3" cy="865.4" r="12.6" fill="none" stroke="#377eb8" stroke-width="2.4"/>
<circle cx="565.6" cy="865.4" r="12.6" fill="none" stroke="#377eb8" stroke-width="2.4"/>
<circle cx="580.9" cy="860.0" r="12.6" fill="none" stroke="#377eb8" stroke-width="2.4"/>
<circle cx="609.7" cy="904.6" r="12.6" fill="none" stroke="#377eb8" stroke-width="2.4"/>
<circle cx="637.4" cy="868.9" r="12.6" fill="none" stroke="#377eb8" stroke-width="2.4"/>
<circle cx="643.3" cy="853.6" r="12.6" fill="none" stroke="#377eb8" stroke-width="2.4"/>
<circle cx="655.5" cy="852.4" r="12.6" fill="none" stroke="#377eb8" stroke-width="2.4"/>
<circle cx="650.9" cy="909.7" r="12.6" fill="none" stroke="#377eb8" stroke-width="2.4"/>
<circle cx="649.1" cy="926.2" r="12.6" fill="none" stroke="#377eb8" stroke-width="2.4"/>
<circle cx="663.1" cy="964.8" r="12.6" fill="none" stroke="#377eb8" stroke-width="2.4"/>
<circle cx="712.8" cy="823.1" r="12.6" fill="none" stroke="#377eb8" stroke-width="2.4"/>
<polygon points="146.3,1109.5 163.6,1120.3 224.7,1118.5 247.7,1114.2 290.4,1055.5 327.9,1053.7 347.5,1066.9 363.3,1086.0 368.4,1101.3 377.3,1102.1 409.1,1060.6 421.8,1036.4 424.9,1023.6 432.0,1013.5 446.8,1005.3 453.7,993.1 472.0,969.7 497.4,1007.1 512.2,1035.1 526.7,1042.7 554.2,1079.7 558.0,1092.5 573.1,1068.4 580.7,1031.5 610.0,994.6 643.6,1035.3 650.7,1031.5 679.5,965.8 681.5,965.8 681.5,1189.3 651.2,1181.7 638.0,1193.6 610.0,1193.1 580.7,1213.5 565.5,1240.2 559.1,1247.9 552.7,1253.0 541.5,1241.3 526.7,1224.8 512.2,1210.8 497.4,1189.1 472.0,1157.3 453.7,1163.7 432.0,1173.8 424.9,1184.0 409.1,1262.4 377.3,1268.0 363.3,1233.7 347.5,1226.0 320.0,1240.0 290.9,1255.7 247.7,1283.7 224.7,1282.9 182.7,1265.3 163.6,1263.8 146.3,1281.1" fill="#4daf4a" fill-opacity="0.3"/>
<polyline points="146.3,1193.8 163.6,1191.5 182.7,1191.5 224.7,1199.7 247.7,1199.1 290.9,1156.4 329.1,1142.5 347.5,1144.6 363.3,1161.1 377.3,1184.0 409.1,1162.4 421.8,1112.7 424.4,1101.3 430.7,1092.4 447.3,1083.5 454.9,1074.6 472.0,1064.9 497.4,1097.5 512.2,1121.7 526.7,1133.1 541.5,1153.5 557.8,1173.5 565.5,1165.1 580.7,1120.6 588.4,1114.2 610.0,1093.8 641.8,1111.7 652.0,1105.3 681.3,1076.5" fill="none" stroke="#4daf4a" stroke-width="6.7" stroke-linejoin="round"/>
<circle cx="163.6" cy="1199.7" r="12.6" fill="none" stroke="#4daf4a" stroke-width="2.4"/>
<circle cx="182.7" cy="1169.1" r="12.6" fill="none" stroke="#4daf4a" stroke-width="2.4"/>
<circle cx="224.7" cy="1192.0" r="12.6" fill="none" stroke="#4daf4a" stroke-width="2.4"/>
<circle cx="247.7" cy="1222.1" r="12.6" fill="none" stroke="#4daf4a" stroke-width="2.4"/>
<circle cx="290.9" cy="1139.2" r="12.6" fill="none" stroke="#4daf4a" stroke-width="2.4"/>
<circle cx="329.0" cy="1154.7" r="12.6" fill="none" stroke="#4daf4a" stroke-width="2.4"/>
<circle cx="347.0" cy="1131.5" r="12.6" fill="none" stroke="#4daf4a" stroke-width="2.4"/>
<circle cx="363.3" cy="1139.0" r="12.6" fill="none" stroke="#4daf4a" stroke-width="2.4"/>
<circle cx="368.4" cy="1184.0" r="12.6" fill="none" stroke="#4daf4a" stroke-width="2.4"/>
<circle cx="377.3" cy="1199.3" r="12.6" fill="none" stroke="#4daf4a" stroke-width="2.4"/>
<circle cx="409.1" cy="1206.9" r="12.6" fill="none" stroke="#4daf4a" stroke-width="2.4"/>
<circle cx="432.0" cy="1063.6" r="12.6" fill="none" stroke="#4daf4a" stroke-width="2.4"/>
<circle cx="421.1" cy="1086.5" r="12.6" fill="none" stroke="#4daf4a" stroke-width="2.4"/>
<circle cx="424.4" cy="1124.2" r="12.6" fill="none" stroke="#4daf4a" stroke-width="2.4"/>
<circle cx="446.8" cy="1086.0" r="12.6" fill="none" stroke="#4daf4a" stroke-width="2.4"/>
<circle cx="453.7" cy="1086.0" r="12.6" fill="none" stroke="#4daf4a" stroke-width="2.4"/>
<circle cx="472.0" cy="1041.0" r="12.6" fill="none" stroke="#4daf4a" stroke-width="2.4"/>
<circle cx="497.4" cy="1101.8" r="12.6" fill="none" stroke="#4daf4a" stroke-width="2.4"/>
<circle cx="526.7" cy="1101.8" r="12.6" fill="none" stroke="#4daf4a" stroke-width="2.4"/>
<circle cx="512.2" cy="1154.0" r="12.6" fill="none" stroke="#4daf4a" stroke-width="2.4"/>
<circle cx="553.5" cy="1154.5" r="12.6" fill="none" stroke="#4daf4a" stroke-width="2.4"/>
<circle cx="557.6" cy="1199.4" r="12.6" fill="none" stroke="#4daf4a" stroke-width="2.4"/>
<circle cx="565.6" cy="1229.7" r="12.6" fill="none" stroke="#4daf4a" stroke-width="2.4"/>
<circle cx="571.7" cy="1101.4" r="12.6" fill="none" stroke="#4daf4a" stroke-width="2.4"/>
<circle cx="580.2" cy="1109.1" r="12.6" fill="none" stroke="#4daf4a" stroke-width="2.4"/>
<circle cx="610.0" cy="1078.6" r="12.6" fill="none" stroke="#4daf4a" stroke-width="2.4"/>
<circle cx="643.6" cy="1101.5" r="12.6" fill="none" stroke="#4daf4a" stroke-width="2.4"/>
<circle cx="651.2" cy="1109.1" r="12.6" fill="none" stroke="#4daf4a" stroke-width="2.4"/>
<circle cx="638.0" cy="1132.0" r="12.6" fill="none" stroke="#4daf4a" stroke-width="2.4"/>
<circle cx="681.3" cy="1071.4" r="12.6" fill="none" stroke="#4daf4a" stroke-width="2.4"/>
<line x1="145.1" y1="4.0" x2="850.4" y2="4.0" stroke="#1c1c1c" stroke-width="2.5"/>
<line x1="146.5" y1="4.0" x2="146.5" y2="8.7" stroke="#1c1c1c" stroke-width="2.6"/>
<line x1="196.7" y1="4.0" x2="196.7" y2="8.7" stroke="#1c1c1c" stroke-width="2.6"/>
<line x1="246.9" y1="4.0" x2="246.9" y2="12.6" stroke="#1c1c1c" stroke-width="2.6"/>
<line x1="297.0" y1="4.0" x2="297.0" y2="8.7" stroke="#1c1c1c" stroke-width="2.6"/>
<line x1="347.2" y1="4.0" x2="347.2" y2="8.7" stroke="#1c1c1c" stroke-width="2.6"/>
<line x1="397.4" y1="4.0" x2="397.4" y2="8.7" stroke="#1c1c1c" stroke-width="2.6"/>
<line x1="447.6" y1="4.0" x2="447.6" y2="8.7" stroke="#1c1c1c" stroke-width="2.6"/>
<line x1="497.8" y1="4.0" x2="497.8" y2="12.6" stroke="#1c1c1c" stroke-width="2.6"/>
<line x1="547.9" y1="4.0" x2="547.9" y2="8.7" stroke="#1c1c1c" stroke-width="2.6"/>
<line x1="598.1" y1="4.0" x2="598.1" y2="8.7" stroke="#1c1c1c" stroke-width="2.6"/>
<line x1="648.3" y1="4.0" x2="648.3" y2="8.7" stroke="#1c1c1c" stroke-width="2.6"/>
<line x1="698.5" y1="4.0" x2="698.5" y2="8.7" stroke="#1c1c1c" stroke-width="2.6"/>
<line x1="748.7" y1="4.0" x2="748.7" y2="12.6" stroke="#1c1c1c" stroke-width="2.6"/>
<line x1="798.8" y1="4.0" x2="798.8" y2="8.7" stroke="#1c1c1c" stroke-width="2.6"/>
<line x1="849.0" y1="4.0" x2="849.0" y2="8.7" stroke="#1c1c1c" stroke-width="2.6"/>
<line x1="145.1" y1="1346.4" x2="850.4" y2="1346.4" stroke="#1c1c1c" stroke-width="2.5"/>
<line x1="146.5" y1="1346.4" x2="146.5" y2="1341.4" stroke="#1c1c1c" stroke-width="2.6"/>
<line x1="196.7" y1="1346.4" x2="196.7" y2="1341.4" stroke="#1c1c1c" stroke-width="2.6"/>
<line x1="246.9" y1="1346.4" x2="246.9" y2="1337.8" stroke="#1c1c1c" stroke-width="2.6"/>
<line x1="297.0" y1="1346.4" x2="297.0" y2="1341.4" stroke="#1c1c1c" stroke-width="2.6"/>
<line x1="347.2" y1="1346.4" x2="347.2" y2="1341.4" stroke="#1c1c1c" stroke-width="2.6"/>
<line x1="397.4" y1="1346.4" x2="397.4" y2="1341.4" stroke="#1c1c1c" stroke-width="2.6"/>
<line x1="447.6" y1="1346.4" x2="447.6" y2="1341.4" stroke="#1c1c1c" stroke-width="2.6"/>
<line x1="497.8" y1="1346.4" x2="497.8" y2="1337.8" stroke="#1c1c1c" stroke-width="2.6"/>
<line x1="547.9" y1="1346.4" x2="547.9" y2="1341.4" stroke="#1c1c1c" stroke-width="2.6"/>
<line x1="598.1" y1="1346.4" x2="598.1" y2="1341.4" stroke="#1c1c1c" stroke-width="2.6"/>
<line x1="648.3" y1="1346.4" x2="648.3" y2="1341.4" stroke="#1c1c1c" stroke-width="2.6"/>
<line x1="698.5" y1="1346.4" x2="698.5" y2="1341.4" stroke="#1c1c1c" stroke-width="2.6"/>
<line x1="748.7" y1="1346.4" x2="748.7" y2="1337.8" stroke="#1c1c1c" stroke-width="2.6"/>
<line x1="798.8" y1="1346.4" x2="798.8" y2="1341.4" stroke="#1c1c1c" stroke-width="2.6"/>
<line x1="849.0" y1="1346.4" x2="849.0" y2="1341.4" stroke="#1c1c1c" stroke-width="2.6"/>
<line x1="118.9" y1="2.8" x2="118.9" y2="339.7" stroke="#1c1c1c" stroke-width="2.5"/>
<line x1="118.9" y1="51.6" x2="127.4" y2="51.6" stroke="#1c1c1c" stroke-width="2.5"/>
<line x1="118.9" y1="131.5" x2="127.4" y2="131.5" stroke="#1c1c1c" stroke-width="2.5"/>
<line x1="118.9" y1="211.4" x2="127.4" y2="211.4" stroke="#1c1c1c" stroke-width="2.5"/>
<line x1="118.9" y1="291.1" x2="127.4" y2="291.1" stroke="#1c1c1c" stroke-width="2.5"/>
<line x1="862.6" y1="2.8" x2="862.6" y2="339.7" stroke="#1c1c1c" stroke-width="2.5"/>
<line x1="862.6" y1="17.5" x2="854.1" y2="17.5" stroke="#1c1c1c" stroke-width="2.5"/>
<line x1="862.6" y1="112.0" x2="854.1" y2="112.0" stroke="#1c1c1c" stroke-width="2.5"/>
<line x1="862.6" y1="206.3" x2="854.1" y2="206.3" stroke="#1c1c1c" stroke-width="2.5"/>
<line x1="862.6" y1="301.0" x2="854.1" y2="301.0" stroke="#1c1c1c" stroke-width="2.5"/>
<line x1="118.9" y1="380.0" x2="118.9" y2="757.5" stroke="#1c1c1c" stroke-width="2.5"/>
<line x1="118.9" y1="391.4" x2="127.4" y2="391.4" stroke="#1c1c1c" stroke-width="2.5"/>
<line x1="118.9" y1="490.4" x2="127.4" y2="490.4" stroke="#1c1c1c" stroke-width="2.5"/>
<line x1="118.9" y1="589.4" x2="127.4" y2="589.4" stroke="#1c1c1c" stroke-width="2.5"/>
<line x1="118.9" y1="688.7" x2="127.4" y2="688.7" stroke="#1c1c1c" stroke-width="2.5"/>
<line x1="862.6" y1="609.8" x2="862.6" y2="989.2" stroke="#1c1c1c" stroke-width="2.5"/>
<line x1="862.6" y1="639.2" x2="854.1" y2="639.2" stroke="#1c1c1c" stroke-width="2.5"/>
<line x1="862.6" y1="793.8" x2="854.1" y2="793.8" stroke="#1c1c1c" stroke-width="2.5"/>
<line x1="862.6" y1="948.4" x2="854.1" y2="948.4" stroke="#1c1c1c" stroke-width="2.5"/>
<line x1="118.9" y1="964.7" x2="118.9" y2="1344.5" stroke="#1c1c1c" stroke-width="2.5"/>
<line x1="118.9" y1="1040.9" x2="127.4" y2="1040.9" stroke="#1c1c1c" stroke-width="2.5"/>
<line x1="118.9" y1="1192.1" x2="127.4" y2="1192.1" stroke="#1c1c1c" stroke-width="2.5"/>
<line x1="118.9" y1="1343.3" x2="127.4" y2="1343.3" stroke="#1c1c1c" stroke-width="2.5"/>
<line x1="119.5" y1="416.3" x2="119.5" y2="520.1" stroke="#e41a1c" stroke-width="10.3"/>
<rect x="110.5" y="416.3" width="18" height="9.8" fill="#e41a1c"/>
<rect x="110.5" y="510.3" width="18" height="9.8" fill="#e41a1c"/>
<circle cx="119.5" cy="466.3" r="15.6" fill="none" stroke="#e41a1c" stroke-width="10"/>
<line x1="862.4" y1="653.5" x2="862.4" y2="722.4" stroke="#377eb8" stroke-width="10.3"/>
<rect x="853.4" y="653.5" width="18" height="9.8" fill="#377eb8"/>
<rect x="853.4" y="712.6" width="18" height="9.8" fill="#377eb8"/>
<circle cx="862.4" cy="688.4" r="15.6" fill="none" stroke="#377eb8" stroke-width="10"/>
<line x1="119.2" y1="1138.0" x2="119.2" y2="1195.1" stroke="#4daf4a" stroke-width="10.3"/>
<rect x="110.2" y="1138.0" width="18" height="9.8" fill="#4daf4a"/>
<rect x="110.2" y="1185.3" width="18" height="9.8" fill="#4daf4a"/>
<circle cx="119.2" cy="1166.9" r="15.6" fill="none" stroke="#4daf4a" stroke-width="10"/>
<text transform="translate(100.3,66.9) scale(1,1.040)" font-size="34" font-weight="normal" text-anchor="end" >12</text>
<text transform="translate(100.0,144.8) scale(1,1.040)" font-size="34" font-weight="normal" text-anchor="end" >11</text>
<text transform="translate(100.1,222.9) scale(1,1.040)" font-size="34" font-weight="normal" text-anchor="end" >10</text>
<text transform="translate(99.7,302.4) scale(1,1.040)" font-size="34" font-weight="normal" text-anchor="end" >9</text>
<text transform="translate(857.5,32.2) scale(1,1.040)" font-size="34" font-weight="normal" text-anchor="start" >-380</text>
<text transform="translate(857.4,124.0) scale(1,1.040)" font-size="34" font-weight="normal" text-anchor="start" >-400</text>
<text transform="translate(856.0,219.0) scale(1,1.040)" font-size="34" font-weight="normal" text-anchor="start" >-420</text>
<text transform="translate(857.4,317.1) scale(1,1.040)" font-size="34" font-weight="normal" text-anchor="start" >-440</text>
<text transform="translate(98.0,403.3) scale(1,1.040)" font-size="34" font-weight="normal" text-anchor="end" >90</text>
<text transform="translate(98.0,505.3) scale(1,1.040)" font-size="34" font-weight="normal" text-anchor="end" >80</text>
<text transform="translate(98.0,601.1) scale(1,1.040)" font-size="34" font-weight="normal" text-anchor="end" >70</text>
<text transform="translate(100.1,699.1) scale(1,1.040)" font-size="34" font-weight="normal" text-anchor="end" >60</text>
<text transform="translate(871.2,650.2) scale(1,1.040)" font-size="34" font-weight="normal" text-anchor="start" >200</text>
<text transform="translate(870.6,802.0) scale(1,1.040)" font-size="34" font-weight="normal" text-anchor="start" >150</text>
<text transform="translate(870.6,961.0) scale(1,1.040)" font-size="34" font-weight="normal" text-anchor="start" >100</text>
<text transform="translate(98.8,1053.0) scale(1,1.040)" font-size="34" font-weight="normal" text-anchor="end" >2.4</text>
<text transform="translate(100.1,1203.9) scale(1,1.040)" font-size="34" font-weight="normal" text-anchor="end" >2.2</text>
<text transform="translate(96.6,1355.2) scale(1,1.040)" font-size="34" font-weight="normal" text-anchor="end" >2.0</text>
<text transform="translate(218.3,1380.0) scale(1,1.040)" font-size="34" font-weight="normal" text-anchor="start" >10</text>
<text transform="translate(470.4,1380.0) scale(1,1.040)" font-size="34" font-weight="normal" text-anchor="start" >15</text>
<text transform="translate(723.6,1380.2) scale(1,1.040)" font-size="34" font-weight="normal" text-anchor="start" >20</text>
<text transform="translate(376.5,1413.2) scale(1,1.040)" font-size="34" font-weight="normal" text-anchor="start" >Age (ka BP)</text>
<text transform="translate(334.9,1328.8) scale(1,1.040)" font-size="34" font-weight="normal" text-anchor="start" >YD</text>
<text transform="translate(396.2,1295.0) scale(1,1.040)" font-size="34" font-weight="normal" text-anchor="start" >ACR</text>
<text transform="translate(480.0,1338.0) scale(1,1.040)" font-size="34" font-weight="normal" text-anchor="start" >HS1</text>
<text transform="translate(37.4,26.5) scale(1,1.040)" font-size="34" font-weight="bold" text-anchor="start" >a</text>
<text transform="translate(949.6,24.9) scale(1,1.040)" font-size="34" font-weight="bold" text-anchor="start" >b</text>
<text transform="translate(20.9,403.3) scale(1,1.040)" font-size="34" font-weight="bold" text-anchor="start" >c</text>
<text transform="translate(942.7,606.0) scale(1,1.040)" font-size="34" font-weight="bold" text-anchor="start" >d</text>
<text transform="translate(21.7,1005.9) scale(1,1.040)" font-size="34" font-weight="bold" text-anchor="start" >e</text>
<text transform="translate(46.2,260.4) rotate(-90) scale(1,1.040)" font-size="34" letter-spacing="0.15">SST (&#176;C)</text>
<text transform="translate(950.0,99.1) rotate(90) scale(1,1.040)" font-size="34">EDC &#948;D (&#8240;)</text>
<text transform="translate(27.6,687.2) rotate(-90) scale(1,1.040)" font-size="34" letter-spacing="0.18">[CO<tspan font-size="20" dy="11.4">3</tspan><tspan font-size="20" dy="-22.8">2-</tspan><tspan dy="11.4">] (&#956;mol/kg)</tspan></text>
<text transform="translate(957.0,661.0) rotate(90) scale(1,1.040)" font-size="34" letter-spacing="0.3">[O<tspan font-size="20" dy="12">2</tspan><tspan dy="-12">] (&#956;mol/kg)</tspan></text>
<text transform="translate(34.2,1318.2) rotate(-90) scale(1,1.040)" font-size="34" letter-spacing="0.18">[PO<tspan font-size="20" dy="11.4">4</tspan><tspan font-size="20" dy="-22.8">3-</tspan><tspan dy="11.4">] (&#956;mol/kg)</tspan></text>
</svg>
</body></html>
